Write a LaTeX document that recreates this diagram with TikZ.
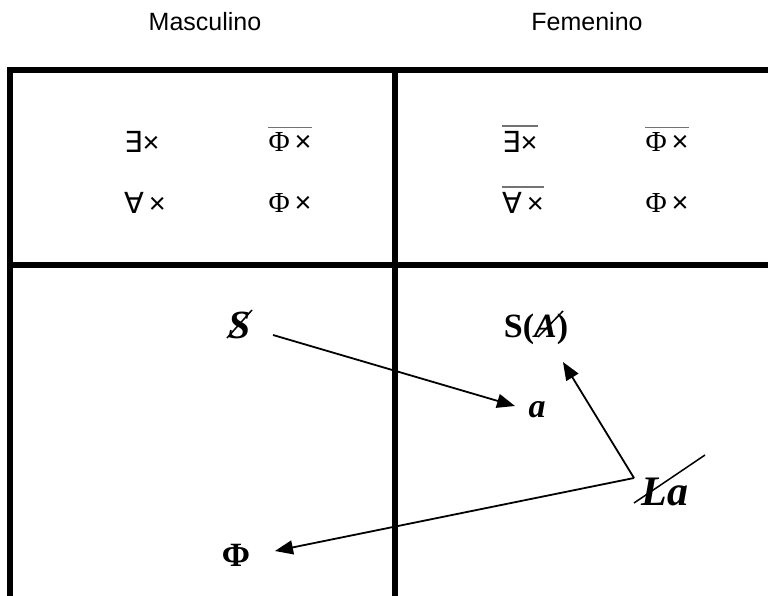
\documentclass[tikz,border=0pt]{standalone}
\usepackage{fontspec}
\setmainfont{Liberation Serif}
\newfontfamily\headfont{Liberation Sans}
\newfontfamily\quantfont{DejaVu Sans}
\usetikzlibrary{arrows.meta}
\newcommand{\Exq}{{\quantfont ∃}{\headfont ×}}
\newcommand{\Allq}{{\quantfont ∀}\,{\headfont ×}}
\newcommand{\Phix}{Φ\,{\headfont ×}}
\tikzset{
  gridline/.style={line width=5.5pt, color=black},
  heading/.style={font=\headfont\fontsize{25}{30}\selectfont, inner sep=0pt},
  cell/.style={font=\fontsize{29}{34}\selectfont, inner sep=0pt},
  bigsym/.style={font=\fontsize{34}{40}\selectfont\bfseries, inner sep=0pt},
  bigital/.style={font=\fontsize{#1}{48}\selectfont\bfseries\itshape, inner sep=0pt},
  negline/.style={line width=1.6pt, color=black!55},
  strike/.style={line width=1.5pt},
  arrow/.style={-{Triangle[length=18pt,width=14pt]}, line width=1.8pt}
}

\begin{document}
\begin{tikzpicture}[x=1pt, y=-1pt]
  \useasboundingbox (0,0) rectangle (768,596);

  % Table frame
  \draw[gridline] (10,596) -- (10,70) -- (768,70);
  \draw[gridline] (10,265) -- (768,265);
  \draw[gridline] (395,70) -- (395,596);

  % Column headings
  \node[heading] (masc) at (205,22) {Masculino};
  \node[heading] (fem) at (587,22) {Femenino};

  % Quantifier cells
  \node[cell] (mex) at (142,142) {\Exq};
  \node[cell] (mphi1) at (290,142) {\Phix};
  \node[cell] (mall) at (145,203) {\Allq};
  \node[cell] (mphi2) at (290,203) {\Phix};
  \node[cell] (fex) at (520,142) {\Exq};
  \node[cell] (fphi1) at (667,142) {\Phix};
  \node[cell] (fall) at (523,203) {\Allq};
  \node[cell] (fphi2) at (667,203) {\Phix};

  % Negation bars
  \foreach \n in {mphi1, fex, fphi1, fall} {
    \draw[negline] ([yshift=5pt]\n.north west) -- ([yshift=5pt]\n.north east);
  }

  % Lower cells
  \node[bigital=40] (sbar) at (240,325) {S};
  \node[bigsym] (sa) at (536,329) {S(\textit{A})};
  \node[bigital=34] (a) at (537,410) {a};
  \node[bigital=42] (la) at (665,492) {La};
  \node[bigsym] (phi) at (236,555) {Φ};

  % Strike-throughs
  \draw[strike] ([shift={(-13,13)}]sbar.center) -- ([shift={(12,-15)}]sbar.center);
  \draw[strike] ([shift={(2,8)}]sa.center) -- ([shift={(27,-18)}]sa.center);
  \draw[strike] ([shift={(-31,11)}]la.center) -- ([shift={(40,-37)}]la.center);

  % Arrows
  \coordinate (hub) at ([shift={(-31,-14)}]la.center);
  \draw[arrow] ([shift={(33,10)}]sbar.center) -- ([shift={(-22,-4)}]a.center);
  \draw[arrow] (hub) -- ([shift={(27,33)}]sa.center);
  \draw[arrow] (hub) -- ([shift={(39,-4)}]phi.center);
\end{tikzpicture}
\end{document}
